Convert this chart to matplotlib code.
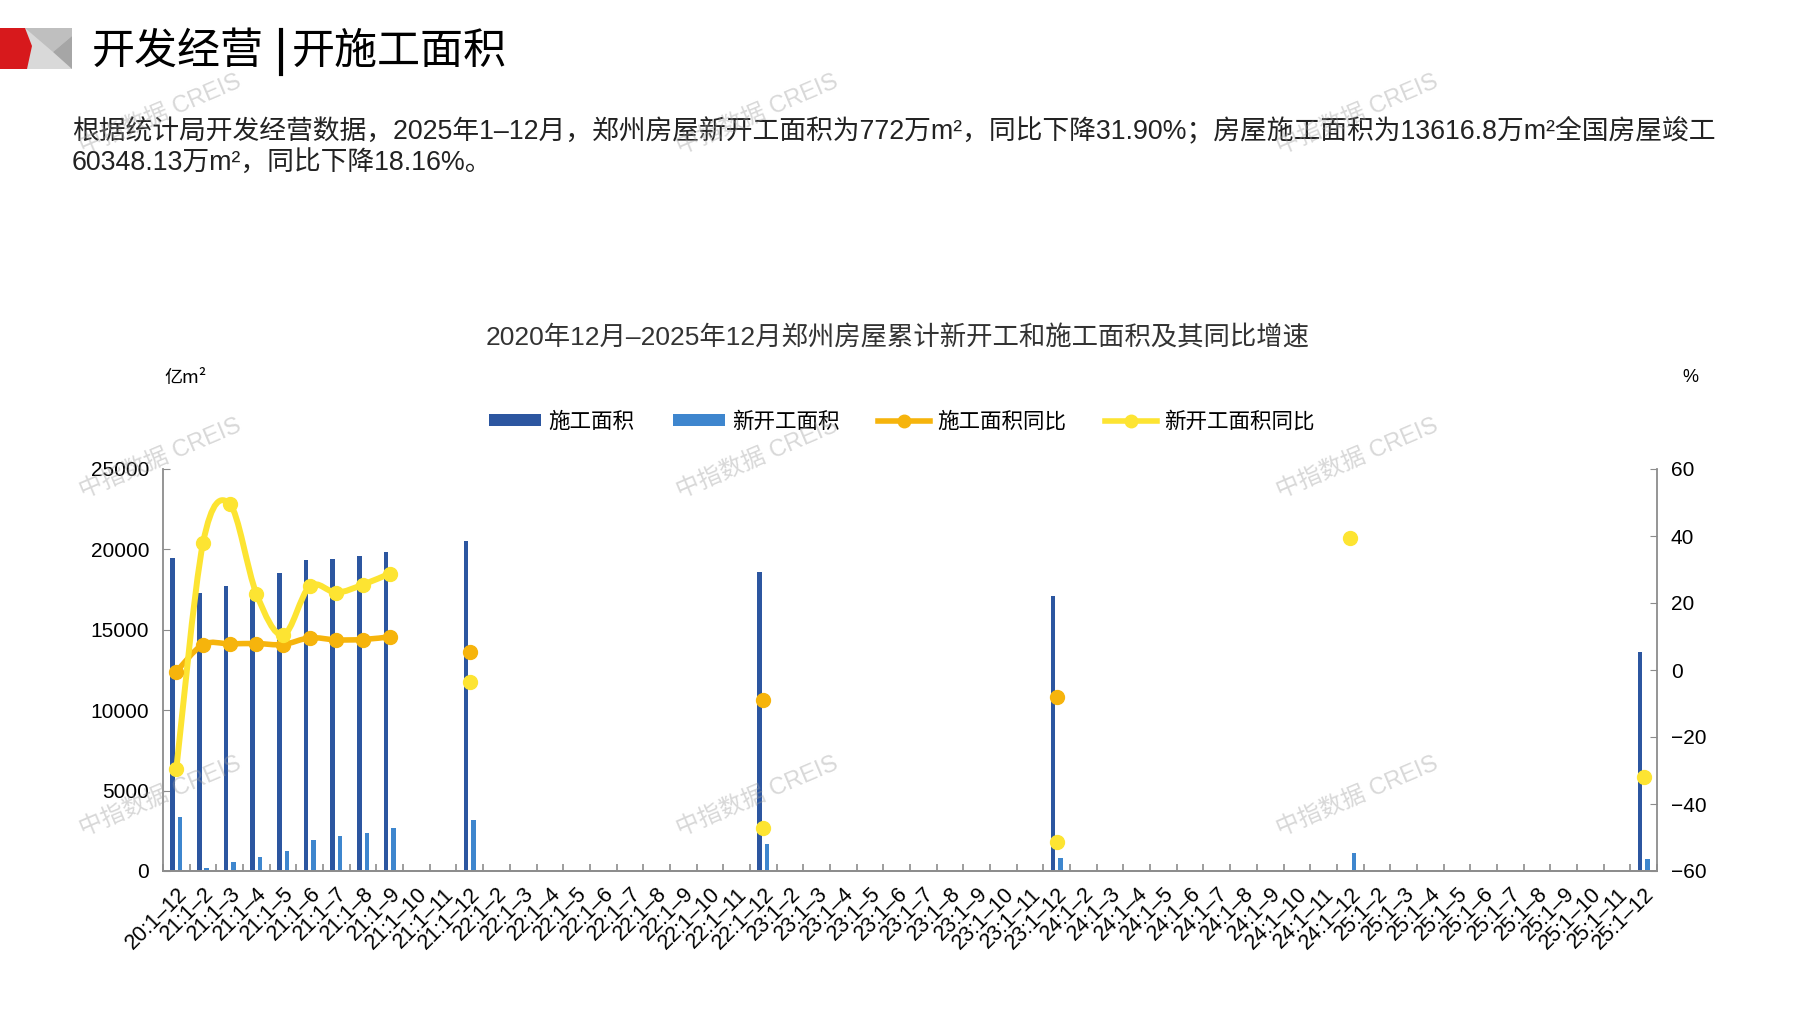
import numpy as np
import matplotlib
matplotlib.use("Agg")
import matplotlib.pyplot as plt
from matplotlib.path import Path
from matplotlib.patches import PathPatch, Patch, Polygon
from matplotlib.lines import Line2D

plt.rcParams['font.family'] = ['Liberation Sans', 'Noto Sans CJK SC', 'DejaVu Sans']
plt.rcParams['axes.unicode_minus'] = True

# categories: 20:1-12, then 1-2 .. 1-12 for 21..25
years = ['21', '22', '23', '24', '25']
months = ['2', '3', '4', '5', '6', '7', '8', '9', '10', '11', '12']
cats = ['20:1–12'] + [y + ':1–' + m for y in years for m in months]

nan = np.nan
# 施工面积 (万m²)
sg_area = [19450,
           17310, 17710, 17450, 18550, 19320, 19400, 19590, 19860, nan, nan, 20500,
           nan, nan, nan, nan, nan, nan, nan, nan, nan, nan, 18610,
           nan, nan, nan, nan, nan, nan, nan, nan, nan, nan, 17100,
           nan, nan, nan, nan, nan, nan, nan, nan, nan, nan, nan,
           nan, nan, nan, nan, nan, nan, nan, nan, nan, nan, 13616.8]
# 新开工面积
xk_area = [3350,
           210, 540, 870, 1240, 1940, 2170, 2380, 2650, nan, nan, 3200,
           nan, nan, nan, nan, nan, nan, nan, nan, nan, nan, 1660,
           nan, nan, nan, nan, nan, nan, nan, nan, nan, nan, 790,
           nan, nan, nan, nan, nan, nan, nan, nan, nan, nan, 1120,
           nan, nan, nan, nan, nan, nan, nan, nan, nan, nan, 772]
# 施工面积同比 (%)
sg_yoy = [-0.5,
          7.6, 7.8, 7.9, 7.6, 9.6, 9.0, 9.1, 9.9, nan, nan, 5.5,
          nan, nan, nan, nan, nan, nan, nan, nan, nan, nan, -9.0,
          nan, nan, nan, nan, nan, nan, nan, nan, nan, nan, -8.2,
          nan, nan, nan, nan, nan, nan, nan, nan, nan, nan, nan,
          nan, nan, nan, nan, nan, nan, nan, nan, nan, nan, nan]
# 新开工面积同比 (%)
xk_yoy = [-29.5,
          37.9, 49.6, 22.8, 10.4, 25.0, 23.1, 25.5, 28.8, nan, nan, -3.7,
          nan, nan, nan, nan, nan, nan, nan, nan, nan, nan, -47.3,
          nan, nan, nan, nan, nan, nan, nan, nan, nan, nan, -51.4,
          nan, nan, nan, nan, nan, nan, nan, nan, nan, nan, 39.3,
          nan, nan, nan, nan, nan, nan, nan, nan, nan, nan, -31.9]

C_SG = '#2C56A0'
C_XK = '#3E86CE'
C_SGY = '#F6B40C'
C_XKY = '#FDE432'
GRAY = '#8C8C8C'
CJK = ['Noto Sans CJK SC', 'DejaVu Sans']

W, H = 1797, 1010
fig = plt.figure(figsize=(W / 100, H / 100), dpi=100)


def fx(px):
    return px / W


def fy(py):
    return 1 - py / H


# header logo
fig.patches.append(Polygon([(fx(25), fy(28)), (fx(72), fy(28)), (fx(72), fy(69)), (fx(25), fy(69))],
                           closed=True, transform=fig.transFigure, fc='#D9D9D9', ec='none'))
fig.patches.append(Polygon([(fx(25), fy(28)), (fx(72), fy(28)), (fx(72), fy(36)), (fx(53), fy(52))],
                           closed=True, transform=fig.transFigure, fc='#BFBFBF', ec='none'))
fig.patches.append(Polygon([(fx(72), fy(36)), (fx(72), fy(69)), (fx(53), fy(52))],
                           closed=True, transform=fig.transFigure, fc='#A6A6A6', ec='none'))
fig.patches.append(Polygon([(0, fy(28)), (fx(25), fy(28)), (fx(32), fy(46)), (fx(27), fy(69)), (0, fy(69))],
                           closed=True, transform=fig.transFigure, fc='#D7191C', ec='none'))

fig.text(fx(92), fy(52), '开发经营', fontsize=31, family=CJK, va='center', ha='left')
fig.text(fx(292), fy(52), '开施工面积', fontsize=31, family=CJK, va='center', ha='left')
fig.add_artist(Line2D([fx(281), fx(281)], [fy(30), fy(74)], transform=fig.transFigure, color='black', lw=3))

para1 = '根据统计局开发经营数据，2025年1–12月，郑州房屋新开工面积为772万m²，同比下降31.90%；房屋施工面积为13616.8万m²全国房屋竣工'
para2 = '60348.13万m²，同比下降18.16%。'
fig.text(fx(72), fy(130), para1, fontsize=19.3, va='center', ha='left', color='#222222')
fig.text(fx(72), fy(164), para2, fontsize=19.3, va='center', ha='left', color='#222222')

fig.text(fx(898), fy(338), '2020年12月–2025年12月郑州房屋累计新开工和施工面积及其同比增速',
         fontsize=19, va='center', ha='center', color='#333333')
fig.text(fx(164), fy(378), '亿m²', fontsize=13, family=CJK, va='center', ha='left')
fig.text(fx(1682), fy(378), '%', fontsize=13, va='center', ha='left')

# axes
ax = fig.add_axes([fx(163), fy(871), fx(1657) - fx(163), fy(469) - fy(871)])
ax2 = ax.twinx()
x = np.arange(len(cats))
bw = 0.17
ax.bar(x - 0.14, sg_area, width=bw, color=C_SG, zorder=2)
ax.bar(x + 0.14, xk_area, width=bw, color=C_XK, zorder=2)
ax.set_xlim(-0.5, len(cats) - 0.5)
ax.set_ylim(0, 25000)
ax.set_yticks([0, 5000, 10000, 15000, 20000, 25000])
ax2.set_ylim(-60, 60)
ax2.set_yticks([-60, -40, -20, 0, 20, 40, 60])


def smooth_runs(axis, xs, ys, color, lw):
    ys = np.asarray(ys, dtype=float)
    ok = ~np.isnan(ys)
    i = 0
    n = len(ys)
    while i < n:
        if not ok[i]:
            i += 1
            continue
        j = i
        while j + 1 < n and ok[j + 1]:
            j += 1
        if j > i:
            pts = np.column_stack([xs[i:j + 1], ys[i:j + 1]])
            verts = [pts[0]]
            codes = [Path.MOVETO]
            m = len(pts)
            for k in range(m - 1):
                p0 = pts[k - 1] if k > 0 else pts[k]
                p1 = pts[k]
                p2 = pts[k + 1]
                p3 = pts[k + 2] if k + 2 < m else pts[k + 1]
                verts += [p1 + (p2 - p0) / 6, p2 - (p3 - p1) / 6, p2]
                codes += [Path.CURVE4] * 3
            axis.add_patch(PathPatch(Path(verts, codes), fill=False, edgecolor=color, lw=lw,
                                     capstyle='round', joinstyle='round', zorder=3))
        i = j + 1
    axis.plot(xs, ys, linestyle='none', marker='o', ms=10, color=color, zorder=4)


smooth_runs(ax2, x, sg_yoy, C_SGY, 4)
smooth_runs(ax2, x, xk_yoy, C_XKY, 4.3)

for a in (ax, ax2):
    a.spines['top'].set_visible(False)
    for s in ('left', 'right', 'bottom'):
        a.spines[s].set_color(GRAY)
        a.spines[s].set_linewidth(1.3)
    a.tick_params(axis='y', direction='in', length=5, color=GRAY, labelsize=15, pad=10)
ax2.spines['left'].set_visible(False)
ax.spines['right'].set_visible(False)

ax.set_xticks(x)
ax.set_xticklabels(cats, rotation=45, ha='right', rotation_mode='anchor', fontsize=15.5)
ax.tick_params(axis='x', which='major', length=0, pad=9)
ax.set_xticks(np.arange(-0.5, len(cats)), minor=True)
ax.tick_params(axis='x', which='minor', direction='in', length=5, color=GRAY, width=1.2)

# legend
handles = [Patch(facecolor=C_SG, edgecolor='none'),
           Patch(facecolor=C_XK, edgecolor='none'),
           Line2D([0], [0], color=C_SGY, lw=4, marker='o', ms=9),
           Line2D([0], [0], color=C_XKY, lw=4, marker='o', ms=9)]
labels = ['施工面积', '新开工面积', '施工面积同比', '新开工面积同比']
fig.legend(handles, labels, loc='center', bbox_to_anchor=(fx(902), fy(422)), ncol=4, frameon=False,
           fontsize=15.5, handlelength=2.4, handleheight=0.5, handletextpad=0.35, columnspacing=1.8,
           numpoints=1)

# watermarks
for wx in (160, 757, 1357):
    for wy in (115, 459, 797):
        fig.text(fx(wx), fy(wy), '中指数据 CREIS', fontsize=17, color='#9E9E9E', alpha=0.4,
                 rotation=23, ha='center', va='center', zorder=10)

fig.savefig('out.png', dpi=100)
